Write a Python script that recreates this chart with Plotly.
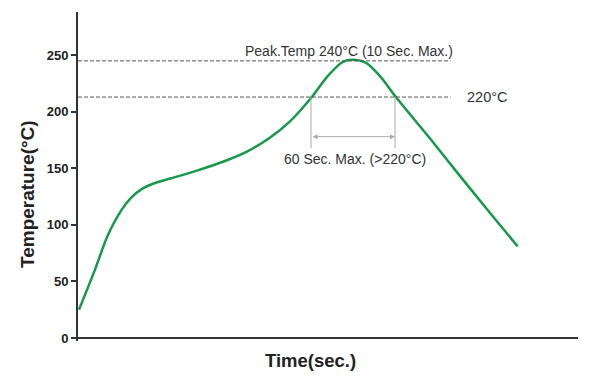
import plotly.graph_objects as go

# Reflow profile
time_s = [0.7, 12, 21, 31, 38, 46, 55, 66, 85, 104, 121, 137, 151, 167, 178, 189, 196, 206, 216, 227, 251, 271, 294, 314]
temp_c = [25, 60, 90, 113, 124, 132, 137, 141, 148, 156, 165, 177, 191, 213, 231, 244, 246, 243, 231, 213, 177, 146, 111, 81]

peak_line = 245
liquidus_line = 213
dash_end = 266
window_start = 166.4
window_end = 226.4
window_bottom = 168
arrow_level = 178

y_ticks = [0, 50, 100, 150, 200, 250]

FONT = "Liberation Sans, Arial, sans-serif"

fig = go.Figure()
fig.add_trace(go.Scatter(
    x=time_s, y=temp_c, mode="lines",
    line=dict(color="#17994b", width=2.5, shape="spline", smoothing=0.8),
    hoverinfo="skip", showlegend=False,
))

# dashed reference lines
for lvl in (peak_line, liquidus_line):
    fig.add_shape(type="line", xref="x", yref="y", x0=0, x1=dash_end, y0=lvl, y1=lvl,
                  line=dict(color="#555555", width=1, dash="4px,2px"))

# vertical window markers
for xv in (window_start, window_end):
    fig.add_shape(type="line", xref="x", yref="y", x0=xv, x1=xv, y0=liquidus_line, y1=window_bottom,
                  line=dict(color="#aaaaaa", width=1))

# double-headed arrow
fig.add_annotation(x=window_end, y=arrow_level, ax=window_start, ay=arrow_level,
                   xref="x", yref="y", axref="x", ayref="y", text="",
                   showarrow=True, arrowside="end+start", arrowhead=2, arrowsize=1,
                   arrowwidth=1, arrowcolor="#aaaaaa")

fig.add_annotation(x=193.6, y=254, xref="x", yref="y", text="Peak.Temp 240°C (10 Sec. Max.)",
                   showarrow=False, font=dict(family=FONT, size=14, color="#333333"))
fig.add_annotation(x=292, y=213, xref="x", yref="y", text="220°C",
                   showarrow=False, font=dict(family=FONT, size=14.5, color="#333333"))
fig.add_annotation(x=198, y=158, xref="x", yref="y", text="60 Sec. Max. (>220°C)",
                   showarrow=False, font=dict(family=FONT, size=14, color="#333333"))

# axis titles
fig.add_annotation(x=(27 - 78) / 500, y=(341 - 194) / 329, xref="paper", yref="paper",
                   xanchor="center", yanchor="middle",
                   text="<b>Temperature(°C)</b>", textangle=-90, showarrow=False,
                   font=dict(family=FONT, size=19, color="#222222"))
fig.add_annotation(x=(310 - 78) / 500, y=-(361 - 341) / 329, xref="paper", yref="paper",
                   xanchor="center", yanchor="middle",
                   text="<b>Time(sec.)</b>", showarrow=False,
                   font=dict(family=FONT, size=18.5, color="#222222"))

fig.update_layout(
    width=609, height=378,
    margin=dict(l=78, r=31, t=12, b=37),
    paper_bgcolor="white", plot_bgcolor="white",
    xaxis=dict(range=[0, 357.1], showgrid=False, zeroline=False, showline=False,
               showticklabels=False, ticks=""),
    yaxis=dict(range=[-2.65, 288.2], tickvals=y_ticks, showgrid=False,
               zeroline=True, zerolinecolor="#333333", zerolinewidth=2,
               showline=True, linecolor="#333333", linewidth=2,
               ticks="outside", ticklen=5, tickwidth=1.5, tickcolor="#333333",
               tickfont=dict(family=FONT, size=13, color="#222222", weight="bold")),
)

fig.write_html("out.html", config={"displayModeBar": False},
               post_script="document.body.style.margin='0px';")
